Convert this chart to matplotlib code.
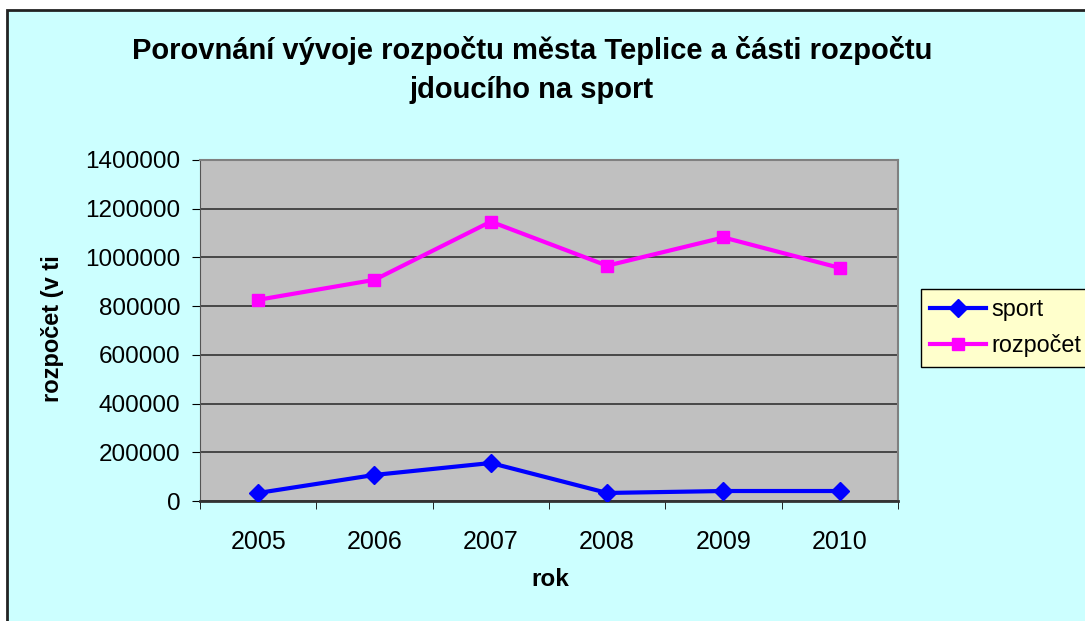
import numpy as np
import matplotlib.pyplot as plt
from matplotlib.patches import Rectangle

plt.rcParams['font.family'] = ['Liberation Sans', 'DejaVu Sans']

# data
roky = ['2005', '2006', '2007', '2008', '2009', '2010']
sport = [33000, 107000, 156000, 33000, 41000, 41000]
rozpocet = [826000, 908000, 1147000, 966000, 1082000, 957000]
yticks = [0, 200000, 400000, 600000, 800000, 1000000, 1200000, 1400000]

fig = plt.figure(figsize=(10.85, 6.21), dpi=100)
fig.patch.set_facecolor('white')

# chart area background with border (clipped on right/bottom like the original)
bg = Rectangle((7/1085, -0.1), 1.2, 1 - 10/621 + 0.1, transform=fig.transFigure,
               facecolor='#CCFFFF', edgecolor='#222222', linewidth=2, zorder=-10)
fig.patches.append(bg)

ax = fig.add_axes([200/1085, 1 - 501/621, 698/1085, 341/621])
ax.set_facecolor('#C0C0C0')

x = np.arange(len(roky))
ax.plot(x, sport, color='#0000FF', lw=3, marker='D', ms=9, label='sport', zorder=3)
ax.plot(x, rozpocet, color='#FF00FF', lw=3, marker='s', ms=9, label='rozpočet', zorder=3)

ax.set_xlim(-0.5, len(roky) - 0.5)
ax.set_ylim(0, 1400000)
ax.set_yticks(yticks)
ax.set_yticklabels([str(v) for v in yticks])
ax.set_xticks(x)
ax.set_xticklabels(roky)
ax.set_xticks(np.arange(-0.5, len(roky)), minor=True)
ax.tick_params(axis='x', which='major', length=0, pad=21, labelsize=18)
ax.tick_params(axis='x', which='minor', length=6, color='black', direction='out')
ax.tick_params(axis='y', length=6, color='black', direction='out', labelsize=17.5, pad=8)
ax.yaxis.grid(True, color='#333333', lw=1.2)
ax.set_axisbelow(True)

for s in ['top', 'right']:
    ax.spines[s].set_color('#808080')
    ax.spines[s].set_linewidth(1.5)
ax.spines['left'].set_color('#555555')
ax.spines['bottom'].set_color('#333333')
ax.spines['bottom'].set_linewidth(2)

fig.text(532/1085, 1 - 70/621, 'Porovnání vývoje rozpočtu města Teplice a části rozpočtu\njdoucího na sport',
         ha='center', va='center', fontsize=21, fontweight='bold', linespacing=1.5)
fig.text(52/1085, 1 - 329/621, 'rozpočet (v ti', rotation=90, ha='center', va='center',
         fontsize=17, fontweight='bold')
fig.text(550/1085, 1 - 580/621, 'rok', ha='center', va='center', fontsize=17.5, fontweight='bold')

leg = fig.legend(loc='upper left', bbox_to_anchor=(921/1085, 1 - 289/621), fontsize=16.8,
                 frameon=True, fancybox=False, edgecolor='black', facecolor='#FFFFCC',
                 framealpha=1, handlelength=2.4, borderpad=0.4, labelspacing=0.55,
                 handletextpad=0.2, borderaxespad=0)
leg.get_frame().set_linewidth(1)

fig.savefig('out.png', dpi=100)
